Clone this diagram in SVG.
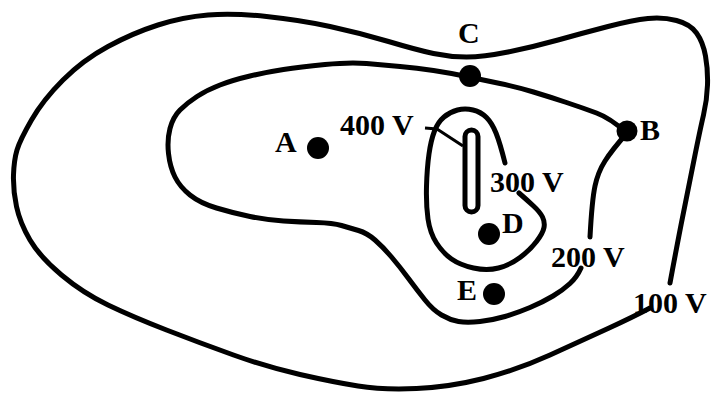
<svg xmlns="http://www.w3.org/2000/svg" width="711" height="393" viewBox="0 0 711 393">
<style>
.c{fill:none;stroke:#000;stroke-width:5;stroke-linecap:round;stroke-linejoin:round}
.t{font-family:"Liberation Serif","Times New Roman",serif;font-weight:bold;font-size:30px;fill:#000}
.d{fill:#000}
</style>
<rect width="711" height="393" fill="#fff"/>
<g id="contour-100V">
<path class="c" d="M 650,308 Q 633,317 608,328.5 Q 583,340 550,355 Q 517,370 483.5,378.5 Q 450,387 416.5,388.5 Q 383,390 358,386 Q 333,382 300,374.5 Q 267,367 233.5,355 Q 200,343 166.5,330 Q 133,317 108,305 Q 83,293 61.5,275 Q 40,257 30,240 Q 20,223 16.5,206.5 Q 13,190 13.5,175 Q 14,160 17,150 Q 20,140 31.5,120 Q 43,100 63,80 Q 83,60 108,46.5 Q 133,33 158,25 Q 183,17 208,15 Q 233,13 266.5,16.5 Q 300,20 330,26.5 Q 360,33 388.5,41.5 Q 417,50 433.5,53.5 Q 450,57 466.5,57 Q 483,57 508,52 Q 533,47 558,40 Q 583,33 608,26.5 Q 633,20 648,18.5 Q 663,17 676.5,20.5 Q 690,24 696.5,33 Q 703,42 705.5,56 Q 708,70 707.5,85 Q 707,100 703.5,115 Q 700,130 694,160 Q 688,190 683,215 Q 678,240 670,283"/>
<text class="t" x="633" y="313">100 V</text>
</g>
<g id="contour-200V">
<path class="c" d="M 590,237 Q 592,200 595,186 Q 598,172 605,161 Q 612,150 627,133 Q 610,118 596.5,113 Q 583,108 566.5,102.5 Q 550,97 533.5,92 Q 517,87 500,83.5 Q 483,80 466.5,76.5 Q 450,73 433.5,70.5 Q 417,68 400,66.5 Q 383,65 366.5,63.5 Q 350,62 325,64.5 Q 300,67 283.5,69.5 Q 267,72 250,76 Q 233,80 220,85 Q 207,90 197,96.5 Q 187,103 180,110 Q 173,117 170,128.5 Q 167,140 168.5,153.5 Q 170,167 175,177 Q 180,187 190,195 Q 200,203 216.5,208 Q 233,213 250,216.5 Q 267,220 283.5,221 Q 300,222 316.5,222.5 Q 333,223 341.5,225.5 Q 350,228 358.5,230.5 Q 367,233 375,240 Q 383,247 391.5,257 Q 400,267 408.5,278.5 Q 417,290 425,300 Q 433,310 441.5,315 Q 450,320 458.5,321.5 Q 467,323 480,321.5 Q 493,320 505,316.5 Q 517,313 530,307.5 Q 543,302 553,296 Q 563,290 570,283.5 Q 577,277 581,268"/>
<text class="t" x="551" y="267">200 V</text>
</g>
<g id="contour-300V">
<path class="c" d="M 505,163 Q 500,143 496,133 Q 492,123 486.5,117.5 Q 481,112 473,110 Q 465,108 457.5,110 Q 450,112 444,117 Q 438,122 434.5,131 Q 431,140 429,154 Q 427,168 426.5,186.5 Q 426,205 428,219 Q 430,233 436.5,243 Q 443,253 451.5,259 Q 460,265 473.5,268 Q 487,271 498.5,268 Q 510,265 520,257.5 Q 530,250 536.5,241.5 Q 543,233 544,227.5 Q 545,222 542.5,217 Q 540,212 533.5,206 Q 527,200 519,193"/>
<text class="t" x="490" y="192">300 V</text>
</g>
<g id="contour-400V">
<rect class="c" x="465" y="130" width="13" height="82" rx="6.5"/>
<text class="t" x="340" y="135">400 V</text>
</g>
<g id="connectors">
<polyline fill="none" stroke="#000" stroke-width="3" stroke-linejoin="round" points="425,128 437,129 463,146"/>
</g>
<g id="point-A"><circle class="d" cx="318" cy="148" r="11"/><text class="t" x="275" y="152">A</text></g>
<g id="point-B"><circle class="d" cx="627" cy="131" r="10.5"/><text class="t" x="640" y="140">B</text></g>
<g id="point-C"><circle class="d" cx="470" cy="76" r="11"/><text class="t" x="458" y="43">C</text></g>
<g id="point-D"><circle class="d" cx="489" cy="234" r="11"/><text class="t" x="502" y="233">D</text></g>
<g id="point-E"><circle class="d" cx="494" cy="294" r="11"/><text class="t" x="457" y="300">E</text></g>
</svg>
